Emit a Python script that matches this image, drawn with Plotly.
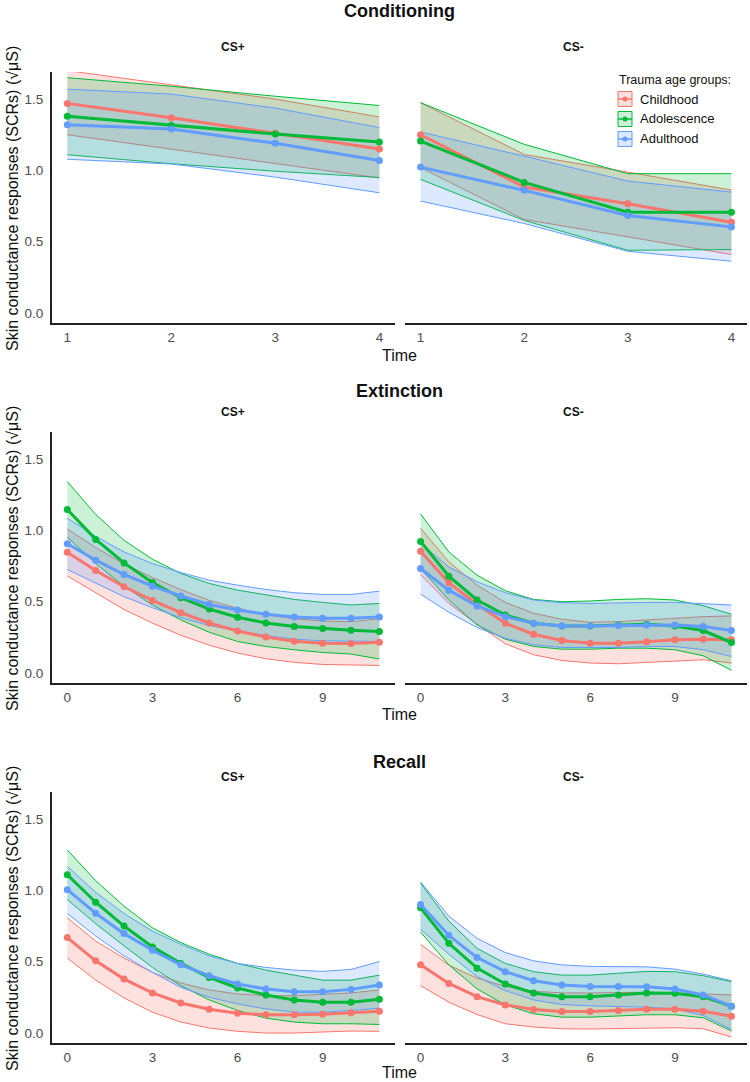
import plotly.graph_objects as go

W, H = 750, 1082

groups = ["Childhood", "Adolescence", "Adulthood"]
colors = {"Childhood": "#F8766D", "Adolescence": "#00BA38", "Adulthood": "#619CFF"}
fills = {"Childhood": "rgba(248,118,109,0.22)", "Adolescence": "rgba(0,186,56,0.20)", "Adulthood": "rgba(97,156,255,0.22)"}
legend_title = "Trauma age groups:"

phases = ["Conditioning", "Extinction", "Recall"]
stimuli = ["CS+", "CS-"]

time_cond = [1, 2, 3, 4]
time_ext = list(range(12))
time_rec = list(range(12))

# ---------------- Conditioning ----------------
cond_csp_mean = {
    "Childhood":   [1.47, 1.37, 1.26, 1.15],
    "Adolescence": [1.38, 1.315, 1.255, 1.20],
    "Adulthood":   [1.32, 1.29, 1.19, 1.07],
}
cond_csp_low = {
    "Childhood":   [1.25, 1.15, 1.045, 0.947],
    "Adolescence": [1.11, 1.047, 0.994, 0.95],
    "Adulthood":   [1.078, 1.045, 0.953, 0.843],
}
cond_csp_up = {
    "Childhood":   [1.70, 1.60, 1.50, 1.375],
    "Adolescence": [1.65, 1.59, 1.52, 1.455],
    "Adulthood":   [1.57, 1.535, 1.437, 1.30],
}
cond_csm_mean = {
    "Childhood":   [1.25, 0.883, 0.766, 0.637],
    "Adolescence": [1.206, 0.916, 0.707, 0.707],
    "Adulthood":   [1.023, 0.86, 0.684, 0.604],
}
cond_csm_low = {
    "Childhood":   [1.019, 0.656, 0.534, 0.41],
    "Adolescence": [0.937, 0.649, 0.44, 0.445],
    "Adulthood":   [0.785, 0.628, 0.433, 0.363],
}
cond_csm_up = {
    "Childhood":   [1.475, 1.112, 0.988, 0.862],
    "Adolescence": [1.475, 1.183, 0.977, 0.977],
    "Adulthood":   [1.269, 1.10, 0.925, 0.848],
}

# ---------------- Extinction ----------------
ext_csp_mean = {
    "Childhood":   [0.847, 0.719, 0.605, 0.509, 0.423, 0.351, 0.295, 0.253, 0.223, 0.209, 0.207, 0.216],
    "Adolescence": [1.147, 0.937, 0.772, 0.635, 0.528, 0.449, 0.391, 0.351, 0.326, 0.312, 0.300, 0.291],
    "Adulthood":   [0.907, 0.791, 0.691, 0.609, 0.540, 0.481, 0.442, 0.412, 0.393, 0.384, 0.384, 0.393],
}
ext_csp_low = {
    "Childhood":   [0.681, 0.56, 0.445, 0.35, 0.265, 0.195, 0.14, 0.10, 0.075, 0.06, 0.058, 0.053],
    "Adolescence": [0.953, 0.767, 0.609, 0.477, 0.372, 0.286, 0.221, 0.186, 0.163, 0.144, 0.133, 0.098],
    "Adulthood":   [0.726, 0.628, 0.535, 0.458, 0.388, 0.333, 0.295, 0.263, 0.237, 0.226, 0.226, 0.221],
}
ext_csp_up = {
    "Childhood":   [1.01, 0.88, 0.765, 0.67, 0.585, 0.51, 0.455, 0.41, 0.38, 0.365, 0.36, 0.38],
    "Adolescence": [1.342, 1.112, 0.93, 0.798, 0.698, 0.628, 0.581, 0.547, 0.516, 0.495, 0.477, 0.488],
    "Adulthood":   [1.086, 0.958, 0.849, 0.767, 0.705, 0.651, 0.616, 0.586, 0.563, 0.551, 0.551, 0.574],
}
ext_csm_mean = {
    "Childhood":   [0.853, 0.633, 0.481, 0.349, 0.272, 0.228, 0.209, 0.209, 0.219, 0.233, 0.237, 0.233],
    "Adolescence": [0.923, 0.679, 0.512, 0.407, 0.349, 0.33, 0.33, 0.337, 0.342, 0.33, 0.298, 0.214],
    "Adulthood":   [0.733, 0.581, 0.47, 0.395, 0.349, 0.33, 0.33, 0.333, 0.337, 0.337, 0.326, 0.298],
}
ext_csm_low = {
    "Childhood":   [0.69, 0.488, 0.342, 0.205, 0.128, 0.088, 0.07, 0.065, 0.074, 0.086, 0.093, 0.07],
    "Adolescence": [0.733, 0.512, 0.337, 0.237, 0.186, 0.167, 0.167, 0.174, 0.174, 0.163, 0.121, 0.019],
    "Adulthood":   [0.553, 0.426, 0.319, 0.244, 0.198, 0.179, 0.179, 0.179, 0.186, 0.186, 0.163, 0.116],
}
ext_csm_up = {
    "Childhood":   [1.016, 0.779, 0.616, 0.495, 0.419, 0.377, 0.356, 0.36, 0.372, 0.384, 0.395, 0.40],
    "Adolescence": [1.116, 0.849, 0.686, 0.577, 0.516, 0.50, 0.505, 0.516, 0.521, 0.512, 0.472, 0.412],
    "Adulthood":   [0.91, 0.744, 0.64, 0.563, 0.512, 0.493, 0.488, 0.493, 0.495, 0.495, 0.488, 0.477],
}

# ---------------- Recall ----------------
rec_csp_mean = {
    "Childhood":   [0.669, 0.506, 0.378, 0.281, 0.211, 0.167, 0.139, 0.128, 0.128, 0.132, 0.142, 0.153],
    "Adolescence": [1.11, 0.917, 0.75, 0.604, 0.488, 0.39, 0.316, 0.267, 0.232, 0.216, 0.216, 0.237],
    "Adulthood":   [1.005, 0.84, 0.697, 0.58, 0.478, 0.402, 0.344, 0.309, 0.29, 0.29, 0.306, 0.337],
}
rec_csp_low = {
    "Childhood":   [0.525, 0.371, 0.246, 0.146, 0.077, 0.035, 0.012, 0.0, 0.0, 0.005, 0.014, 0.012],
    "Adolescence": [0.936, 0.766, 0.611, 0.46, 0.332, 0.232, 0.158, 0.104, 0.077, 0.065, 0.065, 0.06],
    "Adulthood":   [0.838, 0.68, 0.541, 0.425, 0.32, 0.251, 0.204, 0.169, 0.146, 0.146, 0.158, 0.174],
}
rec_csp_up = {
    "Childhood":   [0.808, 0.645, 0.525, 0.425, 0.351, 0.302, 0.274, 0.262, 0.262, 0.269, 0.281, 0.302],
    "Adolescence": [1.284, 1.068, 0.889, 0.738, 0.634, 0.553, 0.488, 0.441, 0.406, 0.371, 0.371, 0.406],
    "Adulthood":   [1.168, 0.987, 0.838, 0.715, 0.622, 0.541, 0.488, 0.46, 0.441, 0.432, 0.446, 0.501],
}
rec_csm_mean = {
    "Childhood":   [0.478, 0.348, 0.255, 0.197, 0.165, 0.151, 0.151, 0.158, 0.167, 0.167, 0.153, 0.118],
    "Adolescence": [0.878, 0.629, 0.455, 0.344, 0.281, 0.255, 0.255, 0.267, 0.281, 0.279, 0.255, 0.188],
    "Adulthood":   [0.901, 0.685, 0.529, 0.43, 0.367, 0.337, 0.327, 0.327, 0.325, 0.309, 0.267, 0.188],
}
rec_csm_low = {
    "Childhood":   [0.332, 0.216, 0.13, 0.065, 0.042, 0.03, 0.028, 0.03, 0.035, 0.037, 0.03, -0.028],
    "Adolescence": [0.708, 0.478, 0.309, 0.197, 0.135, 0.111, 0.111, 0.121, 0.128, 0.128, 0.107, 0.014],
    "Adulthood":   [0.727, 0.553, 0.395, 0.297, 0.232, 0.20, 0.19, 0.188, 0.181, 0.169, 0.123, 0.026],
}
rec_csm_up = {
    "Childhood":   [0.622, 0.476, 0.385, 0.327, 0.293, 0.281, 0.281, 0.283, 0.286, 0.281, 0.274, 0.267],
    "Adolescence": [1.052, 0.785, 0.594, 0.488, 0.43, 0.406, 0.406, 0.42, 0.432, 0.43, 0.402, 0.36],
    "Adulthood":   [1.059, 0.82, 0.664, 0.564, 0.506, 0.478, 0.467, 0.465, 0.464, 0.448, 0.413, 0.367],
}

panels = [
    (0, 0, time_cond, cond_csp_mean, cond_csp_low, cond_csp_up),
    (0, 1, time_cond, cond_csm_mean, cond_csm_low, cond_csm_up),
    (1, 0, time_ext, ext_csp_mean, ext_csp_low, ext_csp_up),
    (1, 1, time_ext, ext_csm_mean, ext_csm_low, ext_csm_up),
    (2, 0, time_rec, rec_csp_mean, rec_csp_low, rec_csp_up),
    (2, 1, time_rec, rec_csm_mean, rec_csm_low, rec_csm_up),
]

FONT = "Liberation Sans, Arial, Helvetica, sans-serif"
TICK_COLOR = "#4D4D4D"

def xp(px):
    return px / W

def yp(py):
    return 1 - py / H

row_px = [(72, 323), (432, 683), (792, 1043)]
col_px = [(51.7, 395), (405, 747)]

fig = go.Figure()
layout = {}

for idx, (r, c, t, mean, low, up) in enumerate(panels):
    n = idx + 1
    xa = "x" if n == 1 else f"x{n}"
    ya = "y" if n == 1 else f"y{n}"
    for g in groups:
        fig.add_trace(go.Scatter(x=t, y=low[g], xaxis=xa, yaxis=ya, mode="lines",
                                 line=dict(color=colors[g], width=1), showlegend=False,
                                 hoverinfo="skip"))
        fig.add_trace(go.Scatter(x=t, y=up[g], xaxis=xa, yaxis=ya, mode="lines",
                                 line=dict(color=colors[g], width=1), fill="tonexty",
                                 fillcolor=fills[g], showlegend=False, hoverinfo="skip"))
    for g in groups:
        fig.add_trace(go.Scatter(x=t, y=mean[g], xaxis=xa, yaxis=ya, mode="lines+markers",
                                 line=dict(color=colors[g], width=3),
                                 marker=dict(color=colors[g], size=7),
                                 showlegend=False, name=g))
    x0, x1 = col_px[c]
    y0, y1 = row_px[r]
    rng = [0.85, 4.15] if r == 0 else [-0.55, 11.55]
    tickvals = time_cond if r == 0 else [0, 3, 6, 9]
    key = "xaxis" if n == 1 else f"xaxis{n}"
    ykey = "yaxis" if n == 1 else f"yaxis{n}"
    layout[key] = dict(domain=[xp(x0), xp(x1)], anchor=ya, range=rng, tickvals=tickvals,
                       showgrid=False, zeroline=False, showline=True, linecolor="#222",
                       linewidth=1.6, ticks="", ticklabelstandoff=1,
                       tickfont=dict(family=FONT, size=13.5, color=TICK_COLOR))
    layout[ykey] = dict(domain=[yp(y1), yp(y0)], anchor=xa, range=[-0.07, 1.69],
                        tickvals=[0, 0.5, 1.0, 1.5], ticktext=["0.0", "0.5", "1.0", "1.5"],
                        showgrid=False, zeroline=False, showline=(c == 0), linecolor="#222",
                        linewidth=1.6, ticks="", showticklabels=(c == 0), ticklabelstandoff=4,
                        tickfont=dict(family=FONT, size=13.5, color=TICK_COLOR))

annotations = []
shapes = []
title_y = [11, 391, 762]
sub_y = [47, 412, 777]
time_y = [355, 714, 1072]
ytitle_y = [199, 559, 919]
for r, ph in enumerate(phases):
    annotations.append(dict(text=f"<b>{ph}</b>", x=xp(399), y=yp(title_y[r]), xref="paper", yref="paper",
                            showarrow=False, font=dict(family=FONT, size=18, color="#111"),
                            xanchor="center", yanchor="middle"))
    for c, s in enumerate(stimuli):
        annotations.append(dict(text=f"<b>{s}</b>", x=xp([233, 573][c]), y=yp(sub_y[r]), xref="paper",
                                yref="paper", showarrow=False,
                                font=dict(family=FONT, size=12, color="#111"),
                                xanchor="center", yanchor="middle"))
    annotations.append(dict(text="Time", x=xp(399), y=yp(time_y[r]), xref="paper", yref="paper",
                            showarrow=False, font=dict(family=FONT, size=16, color="#111"),
                            xanchor="center", yanchor="middle"))
    annotations.append(dict(text="Skin conductance responses (SCRs) (√μS)", x=xp(12), y=yp(ytitle_y[r]),
                            xref="paper", yref="paper", showarrow=False, textangle=-90,
                            font=dict(family=FONT, size=16, color="#111"),
                            xanchor="center", yanchor="middle"))

# custom legend (ggplot-style keys)
annotations.append(dict(text=legend_title, x=xp(617), y=yp(80), xref="paper", yref="paper",
                        showarrow=False, font=dict(family=FONT, size=12.5, color="#111"),
                        xanchor="left", yanchor="middle"))
key_y = [99, 119, 139]
for i, g in enumerate(groups):
    cy = key_y[i]
    shapes.append(dict(type="rect", xref="paper", yref="paper", x0=xp(618), x1=xp(632),
                       y0=yp(cy + 7.5), y1=yp(cy - 7.5), fillcolor=fills[g],
                       line=dict(color=colors[g], width=1)))
    shapes.append(dict(type="line", xref="paper", yref="paper", x0=xp(618), x1=xp(632),
                       y0=yp(cy), y1=yp(cy), line=dict(color=colors[g], width=1.5)))
    shapes.append(dict(type="circle", xref="paper", yref="paper", x0=xp(622.5), x1=xp(627.5),
                       y0=yp(cy + 2.5), y1=yp(cy - 2.5), fillcolor=colors[g],
                       line=dict(color=colors[g], width=0)))
    annotations.append(dict(text=g, x=xp(638), y=yp(cy), xref="paper", yref="paper",
                            showarrow=False, font=dict(family=FONT, size=13, color="#111"),
                            xanchor="left", yanchor="middle"))

fig.update_layout(
    width=W, height=H, margin=dict(l=0, r=0, t=0, b=0),
    paper_bgcolor="white", plot_bgcolor="white",
    annotations=annotations, shapes=shapes, showlegend=False,
    **layout,
)

fig.write_html("out.html")
